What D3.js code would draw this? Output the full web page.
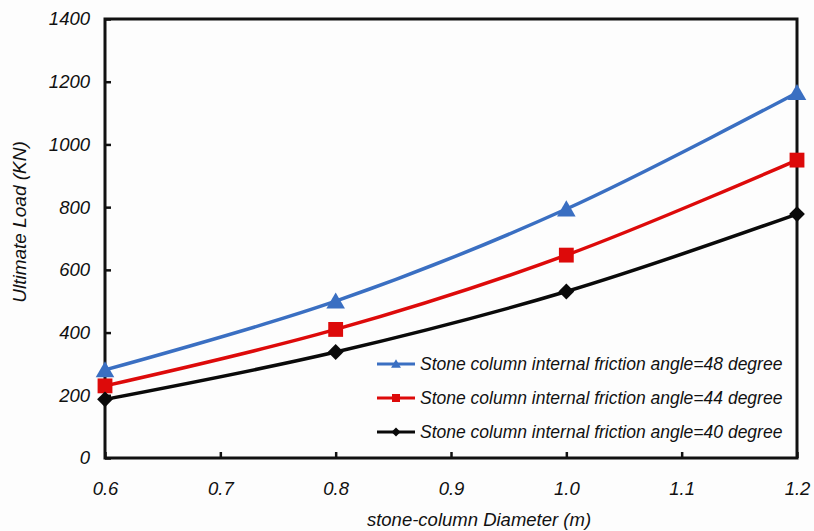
<!DOCTYPE html>
<html>
<head>
<meta charset="utf-8">
<script src="https://cdn.jsdelivr.net/npm/d3@7"></script>
<style>
  body { margin: 0; background: #fdfdfd; }
  text { font-family: "Liberation Sans", Arial, sans-serif; font-style: italic; fill: #111; }
</style>
</head>
<body>
<div id="chart"></div>
<script>
// chart values
var diameters = [0.6, 0.8, 1.0, 1.2];
var load48 = [281, 500, 794, 1165];
var load44 = [230, 410, 647, 950];
var load40 = [187, 338, 531, 778];
var xTicks = [0.6, 0.7, 0.8, 0.9, 1.0, 1.1, 1.2];
var yTicks = [0, 200, 400, 600, 800, 1000, 1200, 1400];
var seriesNames = [
  "Stone column internal friction angle=48 degree",
  "Stone column internal friction angle=44 degree",
  "Stone column internal friction angle=40 degree"
];

function drawChart() {
  var width = 814, height = 531;
  var margin = {top: 19, right: 17, bottom: 73, left: 105};

  var svg = d3.select("#chart").append("svg")
      .attr("width", width)
      .attr("height", height);

  var x = d3.scaleLinear().domain([0.6, 1.2]).range([margin.left, width - margin.right]);
  var y = d3.scaleLinear().domain([0, 1400]).range([height - margin.bottom, margin.top]);

  var series = [
    {name: seriesNames[0], values: load48, color: "#3a6fc2", shape: "triangle"},
    {name: seriesNames[1], values: load44, color: "#dd0a0a", shape: "square"},
    {name: seriesNames[2], values: load40, color: "#0a0a0a", shape: "diamond"}
  ];

  // ticks pointing inward
  var xAxis = d3.axisBottom(x).tickValues(xTicks).tickSize(-6).tickPadding(24)
      .tickFormat(d3.format(".1f"));
  var yAxis = d3.axisLeft(y).tickValues(yTicks).tickSize(-6).tickPadding(15)
      .tickFormat(d3.format("d"));

  var gx = svg.append("g")
      .attr("transform", "translate(0," + y(0) + ")")
      .call(xAxis);
  var gy = svg.append("g")
      .attr("transform", "translate(" + x(0.6) + ",0)")
      .call(yAxis);

  [gx, gy].forEach(function (g) {
    g.select(".domain").remove();
    g.selectAll(".tick line").attr("stroke", "#111").attr("stroke-width", 2.5);
    g.selectAll(".tick text")
      .style("font-family", "'Liberation Sans', Arial, sans-serif")
      .style("font-style", "italic")
      .style("font-size", "18.5px")
      .attr("fill", "#111");
  });

  // frame
  svg.append("rect")
      .attr("x", x(0.6))
      .attr("y", y(1400))
      .attr("width", x(1.2) - x(0.6))
      .attr("height", y(0) - y(1400))
      .attr("fill", "none")
      .attr("stroke", "#111")
      .attr("stroke-width", 3);

  var line = d3.line()
      .x(function (d, i) { return x(diameters[i]); })
      .y(function (d) { return y(d); })
      .curve(d3.curveCatmullRom.alpha(0.5));

  function symbolPath(shape, big) {
    if (shape == "triangle") return d3.symbol(d3.symbolTriangle, big ? 150 : 42)();
    if (shape == "square") return d3.symbol(d3.symbolSquare, big ? 220 : 64)();
    return d3.symbol(d3.symbolSquare, big ? 125 : 40)();
  }

  series.forEach(function (s) {
    svg.append("path")
        .datum(s.values)
        .attr("d", line)
        .attr("fill", "none")
        .attr("stroke", s.color)
        .attr("stroke-width", 3.5);

    svg.selectAll(null)
        .data(s.values)
        .enter().append("path")
        .attr("d", symbolPath(s.shape, true))
        .attr("transform", function (d, i) {
          var dy = s.shape == "triangle" ? 2 : 0;
          return "translate(" + x(diameters[i]) + "," + (y(d) + dy) + ")" + (s.shape == "diamond" ? " rotate(45)" : "");
        })
        .attr("fill", s.color);
  });

  // legend
  var legend = svg.append("g");
  series.forEach(function (s, i) {
    var ly = 364 + i * 34;
    legend.append("line")
        .attr("x1", 377).attr("x2", 415)
        .attr("y1", ly).attr("y2", ly)
        .attr("stroke", s.color)
        .attr("stroke-width", 3);
    legend.append("path")
        .attr("d", symbolPath(s.shape, false))
        .attr("transform", "translate(396," + (ly + (s.shape == "triangle" ? 1 : 0)) + ")" + (s.shape == "diamond" ? " rotate(45)" : ""))
        .attr("fill", s.color);
    legend.append("text")
        .attr("x", 420)
        .attr("y", ly + 6)
        .style("font-size", "17.5px")
        .text(s.name);
  });

  // axis titles
  svg.append("text")
      .attr("x", 479)
      .attr("y", 526)
      .attr("text-anchor", "middle")
      .style("font-size", "18.5px")
      .text("stone-column Diameter (m)");

  svg.append("text")
      .attr("transform", "translate(26,222) rotate(-90)")
      .attr("text-anchor", "middle")
      .style("font-size", "19px")
      .text("Ultimate Load (KN)");
}

drawChart();
</script>
</body>
</html>
